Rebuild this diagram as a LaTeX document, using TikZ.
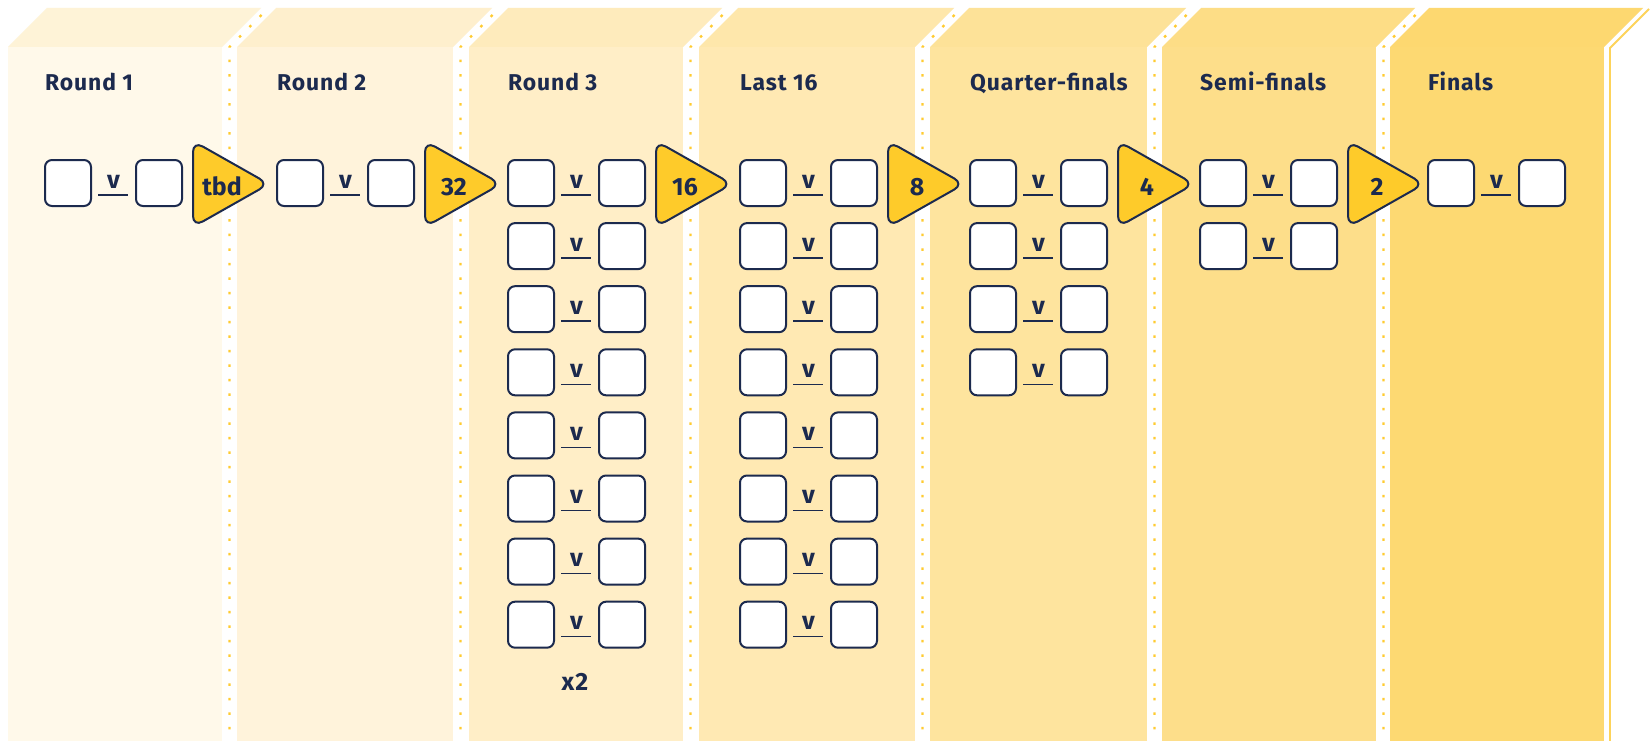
\documentclass[tikz,border=0pt]{standalone}
\usepackage{fontspec}
\setmainfont{Fira Sans}
\newfontfamily\titlefont[LetterSpace=4]{Fira Sans}
\usetikzlibrary{calc}
\definecolor{navy}{HTML}{1C2A4E}
\definecolor{gold}{HTML}{FECB2A}
\definecolor{dotc}{HTML}{FFCB30}
\definecolor{edgec}{HTML}{FDD35A}
\definecolor{warm}{HTML}{F5C030}
\definecolor{col1}{HTML}{FFF9EA}
\definecolor{col2}{HTML}{FFF3DB}
\definecolor{col3}{HTML}{FFEEC7}
\definecolor{col4}{HTML}{FFE9B3}
\definecolor{col5}{HTML}{FEE49E}
\definecolor{col6}{HTML}{FDDE8A}
\definecolor{col7}{HTML}{FDD972}
\colorlet{top1}{col1!90!warm}
\colorlet{top2}{col2!92!warm}
\colorlet{top3}{col3!93!warm}
\colorlet{top4}{col4!94!warm}
\colorlet{top5}{col5!95!warm}
\colorlet{top6}{col6!96!warm}
\colorlet{top7}{col7!97!warm}
\begin{document}
\begin{tikzpicture}[x=1bp,y=-1bp,
  team/.style={draw=navy, line width=2bp, fill=white, rounded corners=7bp,
    minimum width=46bp, minimum height=46bp, inner sep=0pt},
  vslabel/.style={text=navy, font=\fontsize{25}{25}\selectfont\bfseries, inner sep=0pt, anchor=base},
  vsline/.style={draw=navy, line width=1.5bp},
  coltitle/.style={text=navy, font=\titlefont\fontsize{23}{24}\selectfont\bfseries, inner sep=0pt, anchor=base west},
  arrowtri/.style={fill=gold, draw=navy, line width=2bp, rounded corners=11bp},
  arrowlabel/.style={text=navy, font=\fontsize{25}{25}\selectfont\bfseries, inner sep=0pt, anchor=base},
  sepdots/.style={draw=dotc, line width=2.3bp, dash pattern=on 2.5bp off 12bp},
]
\useasboundingbox (0,0) rectangle (1650,741);
\fill[white] (0,0) rectangle (1650,741);
% columns
\foreach \i/\s/\e in {1/8/222, 2/237/453, 3/469/683, 4/699/915, 5/930/1147, 6/1162/1376, 7/1390/1604}{
  \fill[col\i] (\s,47) rectangle (\e,741);
  \fill[top\i] (\s,47) -- (\s+39,8) -- (\e+39,8) -- (\e,47) -- cycle;
}
% dotted separators
\foreach \e in {222, 453, 683, 915, 1147, 1376}{
  \draw[sepdots] (\e+7.5+32,15) -- (\e+7.5,47) -- (\e+7.5,741);
}
% right edge
\draw[edgec, line width=1.8bp] (1610,741) -- (1610,48) -- (1649,9);
% titles and matches
\foreach \i/\bl/\n/\t in {1/44/1/Round 1, 2/276/1/Round 2, 3/507/8/Round 3, 4/739/8/Last 16, 5/969/4/Quarter-finals, 6/1199/2/Semi-finals, 7/1427/1/Finals}{
  \node[coltitle] (T\i) at (\bl+1,90) {\t};
  \foreach \r in {1,...,\n}{
    \pgfmathsetmacro\y{183+63.1*(\r-1)}
    \node[team] (A\i-\r) at (\bl+24,\y) {};
    \node[team] (B\i-\r) at (\bl+115,\y) {};
    \node[vslabel] (V\i-\r) at (\bl+69.5,\y+5) {v};
    \draw[vsline] ($(A\i-\r.east)+(6,12)$) -- ($(B\i-\r.west)+(-7,12)$);
  }
}
\node[arrowlabel, font=\titlefont\fontsize{25}{25}\selectfont\bfseries] (X2) at (575,690) {x2};
% arrows
\foreach \i/\bl/\lab in {1/44/tbd, 2/276/32, 3/507/16, 4/739/8, 5/969/4, 6/1199/2}{
  \draw[arrowtri] (\bl+149,141) -- (\bl+225,184) -- (\bl+149,227) -- cycle;
  \node[arrowlabel] (N\i) at (\bl+178,195) {\lab};
}
\end{tikzpicture}
\end{document}
